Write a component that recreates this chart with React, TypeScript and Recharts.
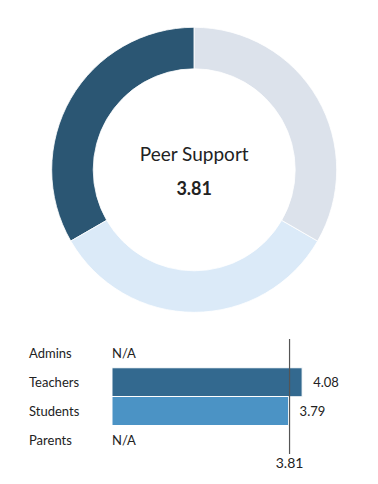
import { PieChart, Pie, Cell, Label, BarChart, Bar, XAxis, YAxis, ReferenceLine } from 'recharts';

const segmentNames = ['Low', 'Middle', 'High'];
const segmentValues = [1, 1, 1];
const segmentColors = ['#2b5673', '#dbeaf8', '#dce2eb'];

const groups = ['Admins', 'Teachers', 'Students', 'Parents'];
const groupScores: (number | null)[] = [null, 4.08, 3.79, null];
const groupColors = ['#2b5673', '#33698f', '#4b93c5', '#4b93c5'];

const overallScore = 3.81;
const title = 'Peer Support';

const FONT = 'Lato, "Open Sans", sans-serif';

const pieData = segmentNames.map((name, i) => ({ name, value: segmentValues[i] }));
const barData = groups.map((group, i) => ({ group, score: groupScores[i] }));

const GroupTick = ({ y, payload, index }: any) => {
  const score = groupScores[index];
  return (
    <g>
      <text x={29} y={y} dy={5} textAnchor="start" fontSize={13} fill="#222" fontFamily={FONT}>
        {payload.value}
      </text>
      {score === null && (
        <text x={112} y={y} dy={5} textAnchor="start" fontSize={13} fill="#222" fontFamily={FONT}>
          N/A
        </text>
      )}
    </g>
  );
};

const ScoreLabel = ({ x, y, width, height, value }: any) => {
  if (value === null || value === undefined) return null;
  return (
    <text x={x + width + 11} y={y + height / 2} dy={5} fontSize={13} fill="#222" fontFamily={FONT}>
      {Number(value).toFixed(2)}
    </text>
  );
};

export default function App() {
  return (
    <div style={{ position: 'absolute', left: 0, top: 0, width: 378, height: 484, background: '#fff', fontFamily: FONT }}>
      <PieChart
        width={378}
        height={320}
        margin={{ top: 0, right: 0, bottom: 0, left: 0 }}
        style={{ position: 'absolute', left: 0, top: 0 }}
      >
        <Pie
          data={pieData}
          dataKey="value"
          nameKey="name"
          cx={194.2}
          cy={169.8}
          innerRadius={101}
          outerRadius={142.5}
          startAngle={90}
          endAngle={450}
          stroke="#fff"
          strokeWidth={0.8}
          isAnimationActive={false}
        >
          {pieData.map((entry, i) => (
            <Cell key={entry.name} fill={segmentColors[i]} />
          ))}
          <Label
            position="center"
            content={({ viewBox }: any) => {
              const cx = viewBox?.cx ?? 194.2;
              const cy = viewBox?.cy ?? 169.8;
              return (
                <g fontFamily={FONT} fill="#222">
                  <text x={cx} y={cy - 9} textAnchor="middle" fontSize={19} fill="#222">
                    {title}
                  </text>
                  <text x={cx} y={cy + 25} textAnchor="middle" fontSize={18} fontWeight={700} fill="#222">
                    {overallScore.toFixed(2)}
                  </text>
                </g>
              );
            }}
          />
        </Pie>
      </PieChart>
      <BarChart
        width={378}
        height={164}
        layout="vertical"
        data={barData}
        margin={{ top: 19, right: 33, bottom: 30, left: 0 }}
        barCategoryGap={0}
        style={{ position: 'absolute', left: 0, top: 320 }}
      >
        <XAxis type="number" domain={[0, 5]} hide />
        <YAxis
          type="category"
          dataKey="group"
          width={112}
          axisLine={false}
          tickLine={false}
          tick={<GroupTick />}
        />
        <Bar dataKey="score" stroke="#fff" strokeWidth={1} isAnimationActive={false} label={<ScoreLabel />}>
          {barData.map((entry, i) => (
            <Cell key={entry.group} fill={groupColors[i]} />
          ))}
        </Bar>
        <ReferenceLine
          x={overallScore}
          stroke="#555"
          strokeWidth={1.2}
          label={{ value: overallScore.toFixed(2), position: 'bottom', offset: 4, fontSize: 14, fill: '#222', fontFamily: FONT }}
        />
      </BarChart>
    </div>
  );
}
